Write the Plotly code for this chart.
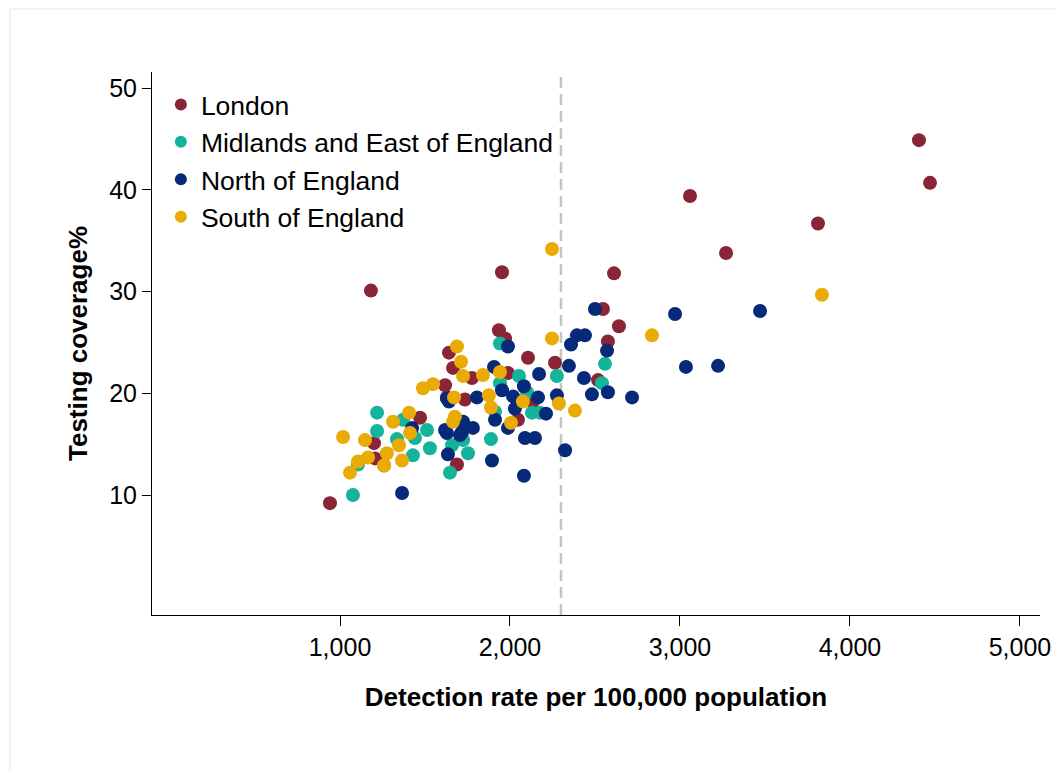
import plotly.graph_objects as go

# Detection rate per 100,000 population (x) and testing coverage % (y) by region
london_x = [941, 1182, 1953, 2612, 3059, 3271, 3812, 4406, 4471, 2547, 2641, 2576, 2518,
            1935, 1971, 2106, 2265, 1641, 1665, 1618, 1776, 1988, 1629, 1735, 1471, 1200,
            1206, 1688, 2135, 2047]
london_y = [9.2, 30.1, 31.9, 31.8, 39.4, 33.8, 36.7, 44.9, 40.7, 28.3, 26.6, 25.1, 21.3,
            26.2, 25.4, 23.5, 23.0, 24.0, 22.5, 20.8, 21.5, 22.0, 19.6, 19.4, 17.6, 15.1,
            13.6, 13.0, 19.2, 17.4]

midlands_x = [1076, 1941, 2053, 2276, 2559, 2541, 1941, 2100, 1912, 2129, 2176, 1888, 1724,
              1659, 1753, 1647, 1218, 1218, 1371, 1335, 1441, 1512, 1529, 1429, 1106, 1259]
midlands_y = [10.0, 24.9, 21.7, 21.7, 22.9, 21.0, 21.0, 20.1, 18.2, 18.1, 18.1, 15.5, 15.4,
              14.9, 14.1, 12.2, 18.1, 16.3, 17.4, 15.5, 15.6, 16.4, 14.6, 13.9, 13.0, 12.9]

north_x = [1365, 1988, 2394, 2441, 2359, 2500, 2971, 3471, 2571, 3035, 3224, 2347, 2435,
           2482, 2576, 2718, 2171, 1906, 2082, 1953, 2018, 2276, 2165, 2029, 2212, 1806,
           1629, 1641, 1912, 1988, 1724, 1782, 1618, 1629, 1706, 1635, 2088, 2147, 1894,
           2082, 2324, 1424, 1718]
north_y = [10.2, 24.6, 25.7, 25.7, 24.8, 28.3, 27.8, 28.1, 24.2, 22.6, 22.7, 22.7, 21.5,
           19.9, 20.1, 19.6, 21.9, 22.6, 20.7, 20.3, 19.7, 19.8, 19.6, 18.5, 18.0, 19.6,
           19.5, 19.2, 17.4, 16.6, 17.2, 16.6, 16.4, 16.1, 15.9, 14.0, 15.6, 15.6, 13.4,
           11.9, 14.4, 16.6, 16.2]

south_x = [1018, 1147, 1312, 1412, 1347, 1276, 1365, 1165, 1106, 1259, 1059, 1406, 1488,
           1547, 1671, 1688, 1712, 1724, 1841, 1941, 2247, 2247, 2835, 3835, 2288, 2382,
           2076, 1876, 1888, 2006, 1676, 1665]
south_y = [15.7, 15.4, 17.2, 16.1, 14.9, 14.1, 13.4, 13.7, 13.3, 12.9, 12.2, 18.1, 20.5,
           20.9, 19.6, 24.6, 23.1, 21.7, 21.8, 22.1, 25.4, 34.2, 25.7, 29.7, 19.0, 18.3,
           19.2, 19.8, 18.6, 17.1, 17.7, 17.2]

threshold = 2300
x_ticks = [1000, 2000, 3000, 4000, 5000]
x_tick_text = ["1,000", "2,000", "3,000", "4,000", "5,000"]
y_ticks = [10, 20, 30, 40, 50]

series = [
    ("London", london_x, london_y, "#8A2537"),
    ("Midlands and East of England", midlands_x, midlands_y, "#14B49A"),
    ("North of England", north_x, north_y, "#06297A"),
    ("South of England", south_x, south_y, "#EBAB05"),
]

fig = go.Figure()
for name, xs, ys, color in series:
    fig.add_trace(go.Scatter(
        x=xs, y=ys, mode="markers", name=name,
        marker=dict(size=14, color=color, line=dict(width=0)),
    ))

font_family = "Liberation Sans, Arial, sans-serif"

fig.update_layout(
    width=1056, height=771,
    margin=dict(l=152, r=16, t=72, b=156, autoexpand=False),
    paper_bgcolor="white", plot_bgcolor="white",
    font=dict(family=font_family, color="black", size=25),
    showlegend=True,
    legend=dict(
        x=0.01, y=0.984, xanchor="left", yanchor="top",
        bgcolor="rgba(0,0,0,0)", font=dict(size=26.5),
        itemsizing="constant",
    ),
    xaxis=dict(
        range=[-106, 5118], tickvals=x_ticks, ticktext=x_tick_text, automargin=False,
        showgrid=False, zeroline=False, showline=True, linecolor="black", linewidth=1,
        ticks="outside", ticklen=10, tickcolor="black", tickfont=dict(size=25),
        title=dict(text="<b>Detection rate per 100,000 population</b>",
                   font=dict(size=26), standoff=27),
    ),
    yaxis=dict(
        range=[-1.8, 51.6], tickvals=y_ticks, automargin=False,
        showgrid=False, zeroline=False, showline=True, linecolor="black", linewidth=1,
        ticks="outside", ticklen=9, tickcolor="black", tickfont=dict(size=25),
        title=dict(text="<b>Testing coverage%</b>", font=dict(size=26), standoff=14),
    ),
    shapes=[
        dict(type="line", xref="x", yref="paper", x0=threshold, x1=threshold, y0=0, y1=1,
             line=dict(color="#C4C4C4", width=2.5, dash="11px,6px"), layer="below"),
        dict(type="rect", xref="paper", yref="paper", x0=-0.16, x1=1.03, y0=-0.3, y1=1.116,
             line=dict(color="#E6E6E6", width=1), fillcolor="rgba(0,0,0,0)", layer="below"),
    ],
)

fig.write_html("out.html")
